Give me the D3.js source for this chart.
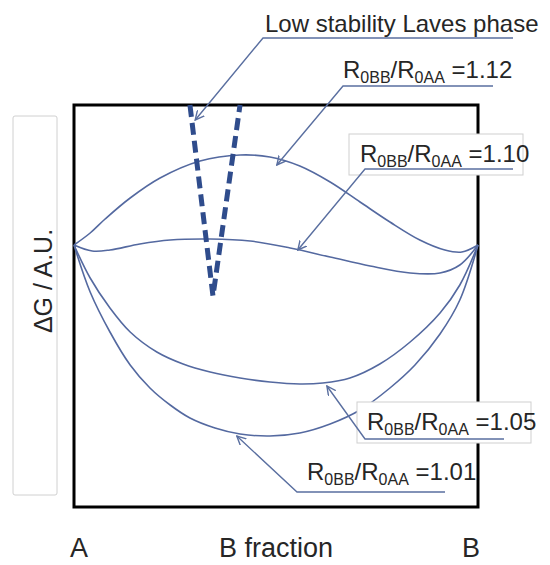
<!DOCTYPE html>
<html>
<head>
<meta charset="utf-8">
<script src="https://cdn.jsdelivr.net/npm/d3@7"></script>
<style>
body { margin: 0; background: #fff; }
text { font-family: "Liberation Sans", Arial, sans-serif; fill: #262626; }
</style>
</head>
<body>
<script>
// B fraction (%) and Gibbs energy (A.U.), one pair per curve
var x112 = [0, 4.0, 7.7, 13.9, 21.3, 31.2, 41.1, 48.5, 55.9, 63.4, 70.8, 78.2, 85.6, 91.8, 96.0, 100];
var g112 = [0, 0.12, 0.26, 0.47, 0.67, 0.84, 0.90, 0.88, 0.79, 0.63, 0.43, 0.23, 0.05, -0.05, -0.07, 0];

var x110 = [0, 4.5, 8.9, 16.3, 23.8, 33.7, 43.6, 53.5, 63.4, 73.3, 83.2, 90.6, 95.5, 100];
var g110 = [0, -0.06, -0.05, 0.01, 0.05, 0.06, 0.04, -0.03, -0.12, -0.21, -0.28, -0.28, -0.20, 0];

var x105 = [0, 4.0, 8.9, 13.9, 20.5, 27.0, 33.7, 41.1, 48.5, 55.9, 61.6, 68.3, 75.7, 83.2, 90.6, 95.5, 100];
var g105 = [0, -0.33, -0.63, -0.87, -1.07, -1.19, -1.27, -1.33, -1.37, -1.39, -1.38, -1.33, -1.19, -0.97, -0.68, -0.40, 0];

var x101 = [0, 4.0, 8.9, 13.9, 18.8, 23.8, 28.7, 34.9, 41.1, 48.5, 55.9, 63.4, 70.8, 78.2, 84.4, 90.6, 95.5, 100];
var g101 = [0, -0.47, -0.87, -1.20, -1.43, -1.60, -1.73, -1.83, -1.89, -1.91, -1.88, -1.79, -1.65, -1.43, -1.20, -0.89, -0.55, 0];

// Laves phase (dashed V)
var xLaves = [28.7, 34.4, 41.1];
var gLaves = [1.40, -0.51, 1.40];

var ratios = ["1.12", "1.10", "1.05", "1.01"];
var xTicks = ["A", "B fraction", "B"];

var width = 550, height = 565;
var box = {left: 74, right: 478, top: 105, bottom: 507};

var svg = d3.select("body").append("svg")
    .attr("width", width)
    .attr("height", height);

var x = d3.scaleLinear().domain([0, 100]).range([box.left, box.right]);
var y = d3.scaleLinear().domain([-2.62, 1.40]).range([box.bottom, box.top]);

var line = d3.line()
    .x(d => x(d[0]))
    .y(d => y(d[1]))
    .curve(d3.curveCatmullRom.alpha(0.5));

var curveColor = "#5469a0";
var arrowColor = "#5a6fa0";

svg.append("defs").append("marker")
    .attr("id", "arrow")
    .attr("viewBox", "0 0 10 10")
    .attr("refX", 9).attr("refY", 5)
    .attr("markerWidth", 10).attr("markerHeight", 10)
    .attr("markerUnits", "userSpaceOnUse")
    .attr("orient", "auto")
  .append("path")
    .attr("d", "M0,0.5 L9,5 L0,9.5")
    .attr("fill", "none")
    .attr("stroke", arrowColor)
    .attr("stroke-width", 1.4);

// plot frame
svg.append("rect")
    .attr("x", box.left).attr("y", box.top)
    .attr("width", box.right - box.left)
    .attr("height", box.bottom - box.top)
    .attr("fill", "none")
    .attr("stroke", "#000")
    .attr("stroke-width", 3);

// y-axis label box
svg.append("rect")
    .attr("x", 13).attr("y", 116)
    .attr("width", 44).attr("height", 379)
    .attr("rx", 2)
    .attr("fill", "none")
    .attr("stroke", "#d0d0d0");

svg.append("text")
    .attr("transform", "translate(52,281) rotate(-90)")
    .attr("text-anchor", "middle")
    .style("font-size", "25px")
    .text("\u0394G / A.U.");

// x labels
svg.selectAll(".xlab")
    .data(xTicks)
    .enter().append("text")
    .attr("class", "xlab")
    .attr("x", (d, i) => [70, 219, 462][i])
    .attr("y", 557)
    .style("font-size", "27px")
    .text(d => d);

// curves
var series = [[x112, g112], [x110, g110], [x105, g105], [x101, g101]];
svg.selectAll(".curve")
    .data(series)
    .enter().append("path")
    .attr("class", "curve")
    .attr("d", s => line(s[0].map((v, i) => [v, s[1][i]])))
    .attr("fill", "none")
    .attr("stroke", curveColor)
    .attr("stroke-width", 1.6);

svg.append("path")
    .attr("d", d3.line().x(d => x(d[0])).y(d => y(d[1]))(xLaves.map((v, i) => [v, gLaves[i]])))
    .attr("fill", "none")
    .attr("stroke", "#2f4c8c")
    .attr("stroke-width", 5)
    .attr("stroke-dasharray", "12,6");

// annotations: arrow tip in data units, elbow + label in px
var notes = [
    {tip: [30.0, 1.25], elbow: [263, 38], end: 513, tx: 265, ty: 32, text: "Low stability Laves phase"},
    {tip: [50.2, 0.80], elbow: [343, 86], end: 493, tx: 343, ty: 78, ratio: ratios[0]},
    {tip: [55.4, -0.05], elbow: [365, 169], end: 513, tx: 360, ty: 162, ratio: ratios[1], frame: [349, 134, 174, 41]},
    {tip: [62.6, -1.41], elbow: [365, 439], end: 504, tx: 367, ty: 430, ratio: ratios[2], frame: [357, 402, 174, 41]},
    {tip: [40.3, -1.91], elbow: [297, 492], end: 445, tx: 307, ty: 480, ratio: ratios[3]}
];

notes.forEach(n => {
    var g = svg.append("g");
    if (n.frame) {
        g.append("rect")
            .attr("x", n.frame[0]).attr("y", n.frame[1])
            .attr("width", n.frame[2]).attr("height", n.frame[3])
            .attr("fill", "#fff")
            .attr("stroke", "#cfcfcf");
    }
    var t = g.append("text")
        .attr("x", n.tx).attr("y", n.ty)
        .style("font-size", "24px");
    if (n.text) {
        t.text(n.text);
    } else {
        t.append("tspan").text("R");
        t.append("tspan").attr("dy", 5).style("font-size", "16px").text("0BB");
        t.append("tspan").attr("dy", -5).text("/R");
        t.append("tspan").attr("dy", 5).style("font-size", "16px").text("0AA");
        t.append("tspan").attr("dy", -5).text(" =" + n.ratio);
    }
    g.append("polyline")
        .attr("points", [[n.end, n.elbow[1]], n.elbow, [x(n.tip[0]), y(n.tip[1])]].map(p => p.join(",")).join(" "))
        .attr("fill", "none")
        .attr("stroke", arrowColor)
        .attr("stroke-width", 1.4)
        .attr("marker-end", "url(#arrow)");
});
</script>
</body>
</html>
